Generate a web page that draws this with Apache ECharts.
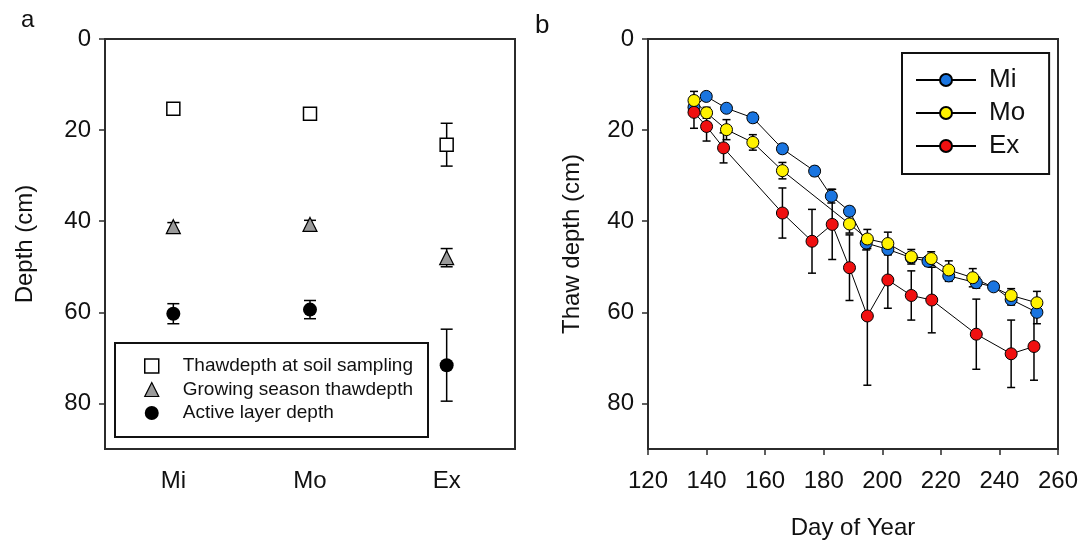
<!DOCTYPE html>
<html><head><meta charset="utf-8">
<script src="https://cdn.jsdelivr.net/npm/echarts@6/dist/echarts.min.js"></script>
<style>html,body{margin:0;padding:0;background:#fff}#c{width:1086px;height:546px}</style>
</head><body><div id="c"></div>
<script>
// ---- Panel a data ----
const categories = ['Mi', 'Mo', 'Ex'];
const thawSampling = [15.3, 16.4, 23.2];
const thawSamplingErr = [1.0, 1.0, 4.7];
const growingThaw = [41.2, 40.7, 48.0];
const growingThawErr = [0.9, 0.9, 2.0];
const activeLayer = [60.3, 59.4, 71.6];
const activeLayerErr = [2.2, 2.0, 7.9];

// ---- Panel b data ----
const miDays  = [135.7, 139.9, 146.8, 155.8, 165.9, 176.9, 182.6, 188.8, 194.5, 201.9, 209.9, 215.6, 222.7, 232.1, 238.0, 244.0, 252.8];
const miDepth = [15.0, 12.6, 15.2, 17.3, 24.1, 29.0, 34.5, 37.8, 44.8, 46.2, 48.0, 48.8, 52.0, 53.5, 54.4, 57.2, 60.0];
const miErr   = [1.0, 0.8, 0.8, 1.0, 1.0, 1.0, 1.5, 1.0, 1.5, 1.0, 1.0, 1.0, 1.2, 1.2, 0.8, 1.2, 2.5];

const moDays  = [135.7, 140.0, 146.8, 155.8, 165.9, 188.8, 194.9, 201.9, 209.9, 216.7, 222.7, 230.9, 244.0, 252.8];
const moDepth = [13.5, 16.2, 19.9, 22.7, 28.9, 40.6, 43.9, 44.9, 47.8, 48.2, 50.7, 52.4, 56.3, 57.9];
const moErr   = [2.0, 1.2, 2.2, 1.7, 1.8, 2.0, 2.1, 2.5, 1.6, 1.5, 2.0, 2.0, 1.5, 2.5];

const exDays  = [135.7, 140.0, 145.8, 165.9, 176.0, 182.9, 188.8, 194.9, 201.9, 209.9, 216.9, 232.1, 244.0, 251.8];
const exDepth = [16.1, 19.2, 23.9, 38.2, 44.4, 40.7, 50.2, 60.8, 52.9, 56.3, 57.3, 64.8, 69.1, 67.5];
const exErr   = [3.5, 3.2, 3.3, 5.5, 7.0, 7.7, 7.2, 15.2, 6.2, 5.4, 7.2, 7.7, 7.4, 7.4];

const depthTicks = [0, 20, 40, 60, 80];

const FONT = 'Liberation Sans, Arial, sans-serif';
const AX = '#2b2b2b';

function errRender(cap) {
  return function (params, api) {
    const x = api.value(0), lo = api.value(1), hi = api.value(2);
    const p1 = api.coord([x, lo]), p2 = api.coord([x, hi]);
    const st = { stroke: '#000', lineWidth: 1.5 };
    return { type: 'group', children: [
      { type: 'line', shape: { x1: p1[0], y1: p1[1], x2: p2[0], y2: p2[1] }, style: st },
      { type: 'line', shape: { x1: p1[0] - cap, y1: p1[1], x2: p1[0] + cap, y2: p1[1] }, style: st },
      { type: 'line', shape: { x1: p2[0] - cap, y1: p2[1], x2: p2[0] + cap, y2: p2[1] }, style: st }
    ]};
  };
}
function errData(xs, ys, es) { return ys.map((v, i) => [xs[i], v - es[i], v + es[i]]); }
function pairs(xs, ys) { return ys.map((v, i) => [xs[i], v]); }
const idx = categories.map((c, i) => i);

function yAxisCfg(gi, name, gap) {
  return {
    gridIndex: gi, type: 'value', inverse: true, min: 0, max: 90,
    name: name, nameLocation: 'middle', nameGap: gap, nameRotate: 90,
    nameTextStyle: { fontFamily: FONT, fontSize: 24, color: '#111' },
    axisLine: { show: true, onZero: false, lineStyle: { color: AX, width: 2 } },
    axisTick: { show: true, inside: false, length: 6, lineStyle: { color: AX, width: 1.5 }, customValues: depthTicks },
    axisLabel: { margin: 14, fontFamily: FONT, fontSize: 24, color: '#111', customValues: depthTicks },
    splitLine: { show: false }
  };
}

const chart = echarts.init(document.getElementById('c'), null, { renderer: 'canvas' });
chart.setOption({
  animation: false,
  backgroundColor: '#fff',
  title: [
    { text: 'a', left: 16, top: 3, textStyle: { fontFamily: FONT, fontSize: 24, fontWeight: 'normal', color: '#111' } },
    { text: 'b', left: 530, top: 8, textStyle: { fontFamily: FONT, fontSize: 26, fontWeight: 'normal', color: '#111' } }
  ],
  grid: [
    { left: 105, top: 39, width: 410, height: 410, show: true, borderColor: AX, borderWidth: 2 },
    { left: 648, top: 39, width: 410, height: 410, show: true, borderColor: AX, borderWidth: 2 }
  ],
  xAxis: [
    {
      gridIndex: 0, type: 'category', data: categories, boundaryGap: true, position: 'bottom',
      axisLine: { onZero: false, lineStyle: { color: AX, width: 2 } },
      axisTick: { alignWithLabel: true, length: 6, lineStyle: { color: AX, width: 1.5 } },
      axisLabel: { margin: 20, fontFamily: FONT, fontSize: 24, color: '#111' },
      splitLine: { show: false }
    },
    {
      gridIndex: 1, type: 'value', min: 120, max: 260, interval: 20, position: 'bottom',
      name: 'Day of Year', nameLocation: 'middle', nameGap: 67,
      nameTextStyle: { fontFamily: FONT, fontSize: 24, color: '#111' },
      axisLine: { onZero: false, lineStyle: { color: AX, width: 2 } },
      axisTick: { length: 6, lineStyle: { color: AX, width: 1.5 } },
      axisLabel: { margin: 20, fontFamily: FONT, fontSize: 24, color: '#111' },
      splitLine: { show: false }
    }
  ],
  yAxis: [yAxisCfg(0, 'Depth (cm)', 68), yAxisCfg(1, 'Thaw depth (cm)', 64)],
  legend: [
    {
      orient: 'vertical', left: 115, top: 343,
      data: [
        { name: 'Thawdepth at soil sampling', itemStyle: { borderColor: '#000', borderWidth: 1.5 } },
        { name: 'Growing season thawdepth', itemStyle: { borderColor: '#000', borderWidth: 1.2 } },
        { name: 'Active layer depth' }
      ],
      itemWidth: 14, itemHeight: 14, itemGap: 3.5,
      padding: [13, 15, 14, 29],
      borderColor: '#111', borderWidth: 2,
      textStyle: { fontFamily: FONT, fontSize: 19, lineHeight: 20, color: '#111', padding: [0, 0, 0, 19] }
    },
    {
      orient: 'vertical', left: 902, top: 53,
      data: ['Mi', 'Mo', 'Ex'],
      itemWidth: 60, itemHeight: 15, itemGap: 7,
      padding: [14, 24, 15, 13],
      borderColor: '#111', borderWidth: 2,
      textStyle: { fontFamily: FONT, fontSize: 26, lineHeight: 26, color: '#111', padding: [0, 0, 0, 8] }
    }
  ],
  series: [
    // Panel a error bars
    { type: 'custom', xAxisIndex: 0, yAxisIndex: 0, z: 1, renderItem: errRender(6), encode: { x: 0, y: [1, 2] }, data: errData(idx, thawSampling, thawSamplingErr), silent: true },
    { type: 'custom', xAxisIndex: 0, yAxisIndex: 0, z: 1, renderItem: errRender(6), encode: { x: 0, y: [1, 2] }, data: errData(idx, growingThaw, growingThawErr), silent: true },
    { type: 'custom', xAxisIndex: 0, yAxisIndex: 0, z: 1, renderItem: errRender(6), encode: { x: 0, y: [1, 2] }, data: errData(idx, activeLayer, activeLayerErr), silent: true },
    // Panel a points
    { name: 'Thawdepth at soil sampling', type: 'scatter', xAxisIndex: 0, yAxisIndex: 0, z: 3, symbol: 'rect', symbolSize: 13,
      itemStyle: { color: '#fff', borderColor: '#000', borderWidth: 1.5, opacity: 1 }, data: pairs(idx, thawSampling) },
    { name: 'Growing season thawdepth', type: 'scatter', xAxisIndex: 0, yAxisIndex: 0, z: 3, symbol: 'triangle', symbolSize: 14,
      itemStyle: { color: '#9a9a9a', borderColor: '#000', borderWidth: 1.2, opacity: 1 }, data: pairs(idx, growingThaw) },
    { name: 'Active layer depth', type: 'scatter', xAxisIndex: 0, yAxisIndex: 0, z: 3, symbol: 'circle', symbolSize: 14,
      itemStyle: { color: '#000', opacity: 1 }, data: pairs(idx, activeLayer) },
    // Panel b error bars
    { type: 'custom', xAxisIndex: 1, yAxisIndex: 1, z: 1, renderItem: errRender(4), encode: { x: 0, y: [1, 2] }, data: errData(miDays, miDepth, miErr), silent: true },
    { type: 'custom', xAxisIndex: 1, yAxisIndex: 1, z: 1, renderItem: errRender(4), encode: { x: 0, y: [1, 2] }, data: errData(exDays, exDepth, exErr), silent: true },
    { type: 'custom', xAxisIndex: 1, yAxisIndex: 1, z: 1, renderItem: errRender(4), encode: { x: 0, y: [1, 2] }, data: errData(moDays, moDepth, moErr), silent: true },
    // Panel b lines
    { name: 'Mi', type: 'line', xAxisIndex: 1, yAxisIndex: 1, z: 3, symbol: 'circle', symbolSize: 12, showAllSymbol: true,
      lineStyle: { color: '#000', width: 1 }, itemStyle: { color: '#1a75e0', borderColor: '#000', borderWidth: 1 },
      data: pairs(miDays, miDepth) },
    { name: 'Ex', type: 'line', xAxisIndex: 1, yAxisIndex: 1, z: 3, symbol: 'circle', symbolSize: 12, showAllSymbol: true,
      lineStyle: { color: '#000', width: 1 }, itemStyle: { color: '#f01010', borderColor: '#000', borderWidth: 1 },
      data: pairs(exDays, exDepth) },
    { name: 'Mo', type: 'line', xAxisIndex: 1, yAxisIndex: 1, z: 3, symbol: 'circle', symbolSize: 12, showAllSymbol: true,
      lineStyle: { color: '#000', width: 1 }, itemStyle: { color: '#fff200', borderColor: '#000', borderWidth: 1 },
      data: pairs(moDays, moDepth) }
  ]
});
</script>
</body></html>
